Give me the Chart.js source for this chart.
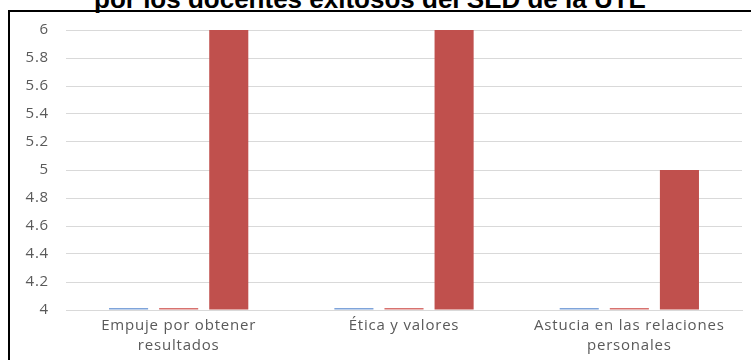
<!DOCTYPE html>
<html>
<head>
<meta charset="utf-8">
<script src="https://cdn.jsdelivr.net/npm/chart.js@4.4.1/dist/chart.umd.min.js"></script>
<style>
  html, body { margin: 0; padding: 0; background: #fff; overflow: hidden; }
  #wrap { position: relative; width: 751px; height: 360px; }
  #title {
    position: absolute; left: 0; width: 740px; top: -14px;
    text-align: center; font: bold 26px "Liberation Sans", Arial, sans-serif;
    line-height: 26px; color: #000; white-space: nowrap;
  }
  #frame {
    position: absolute; left: 8px; top: 10px; width: 760px; height: 360px;
    border-left: 2px solid #000; border-top: 2px solid #000;
  }
  canvas { position: absolute; left: 0; top: 0; }
</style>
</head>
<body>
<div id="wrap">
  <div id="title">por los docentes exitosos del SED de la UTE</div>
  <div id="frame"></div>
  <canvas id="grafico" width="751" height="360"></canvas>
</div>
<script>
// categorias (eje x)
const categorias = [
    ["Empuje por obtener", "resultados"],
    ["Ética y valores"],
    ["Astucia en las relaciones", "personales"],
];

// valores por serie
const serie1 = [4, 4, 4];
const serie2 = [4, 4, 4];
const serie3 = [6, 6, 5];

// eje y
const yMin = 4;
const yMax = 6;
const yPaso = 0.2;

// el texto de excel se ve mas espaciado
const espaciado = {
    id: "espaciado",
    beforeLayout: function (chart) { chart.ctx.letterSpacing = "0.8px"; },
    beforeDraw: function (chart) { chart.ctx.letterSpacing = "0.8px"; },
};

document.addEventListener("DOMContentLoaded", function () {
    const ctx = document.getElementById("grafico").getContext("2d");

    const fuente = { family: "'Open Sans'", size: 15, lineHeight: 1.3 };

    new Chart(ctx, {
        type: "bar",
        plugins: [espaciado],
        data: {
            labels: categorias,
            datasets: [
                { label: "Serie 1", data: serie1, base: yMin, backgroundColor: "#7FA4DA", minBarLength: 2, clip: false },
                { label: "Serie 2", data: serie2, base: yMin, backgroundColor: "#D8726F", minBarLength: 2, clip: false },
                { label: "Serie 3", data: serie3, base: yMin, backgroundColor: "#C0504D" },
            ],
        },
        options: {
            responsive: false,
            animation: false,
            categoryPercentage: 0.667,
            barPercentage: 0.78,
            layout: { padding: { top: 30, right: 9, left: 0, bottom: 0 } },
            plugins: { legend: { display: false }, tooltip: { enabled: false } },
            scales: {
                x: {
                    grid: { display: false, drawTicks: false },
                    border: { color: "#D9D9D9" },
                    ticks: {
                        color: "#595959",
                        padding: 6,
                        maxRotation: 0,
                        font: fuente,
                    },
                    afterFit: function (scale) { scale.height = 50; },
                },
                y: {
                    min: yMin,
                    max: yMax,
                    grid: { color: "#D9D9D9", drawTicks: false },
                    border: { display: false },
                    ticks: {
                        stepSize: yPaso,
                        color: "#595959",
                        padding: 17,
                        font: fuente,
                        callback: function (v) { return Math.round(v * 10) / 10; },
                    },
                    afterFit: function (scale) { scale.width = 66; },
                },
            },
        },
    });
});
</script>
</body>
</html>
